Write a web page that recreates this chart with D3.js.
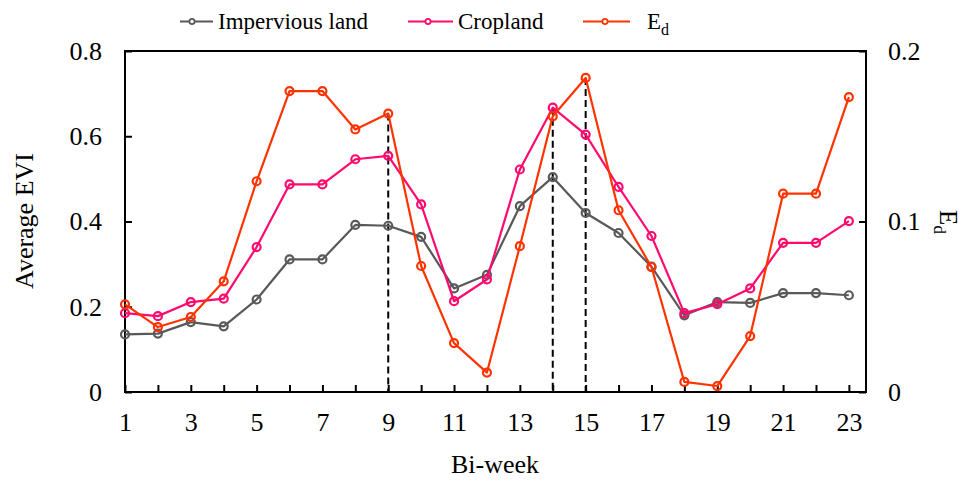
<!DOCTYPE html>
<html>
<head>
<meta charset="utf-8">
<script src="https://cdn.jsdelivr.net/npm/d3@7"></script>
<style>
  html, body { margin: 0; padding: 0; background: #fff; }
  svg { display: block; }
  svg text { font-family: "Liberation Serif", Tinos, "Times New Roman", Times, "Nimbus Roman", "DejaVu Serif", serif !important; fill: #000; }
</style>
</head>
<body>
<svg id="chart" width="966" height="481"></svg>
<script>
const biweeks = d3.range(1, 24);
const xTickLabels = [1, 3, 5, 7, 9, 11, 13, 15, 17, 19, 21, 23];
const leftTicks = [0, 0.2, 0.4, 0.6, 0.8];
const rightTicks = [0, 0.1, 0.2];
const impervious = [0.135, 0.137, 0.164, 0.154, 0.217, 0.311, 0.311, 0.392, 0.390, 0.364, 0.243, 0.275,
                    0.436, 0.504, 0.420, 0.373, 0.294, 0.180, 0.211, 0.209, 0.232, 0.232, 0.227];
const cropland = [0.185, 0.178, 0.211, 0.219, 0.340, 0.487, 0.487, 0.546, 0.554, 0.440, 0.213, 0.264,
                  0.522, 0.667, 0.604, 0.481, 0.366, 0.185, 0.206, 0.243, 0.350, 0.350, 0.401];
const ed = [0.0514, 0.0381, 0.0440, 0.0649, 0.1236, 0.1765, 0.1765, 0.1540, 0.1633, 0.0739, 0.0287, 0.0114,
            0.0855, 0.1617, 0.1842, 0.1066, 0.0733, 0.0059, 0.0035, 0.0328, 0.1163, 0.1163, 0.1730];
const dashedAt = [9, 14, 15];
const seriesNames = ["Impervious land", "Cropland", "E"];
const colors = ["#595959", "#FF0A6E", "#FF3300"];

const FONT = '"Liberation Serif", Tinos, "Times New Roman", Times, "Nimbus Roman", "DejaVu Serif", serif';
const svg = d3.select("#chart").attr("font-family", FONT);
const pL = 125, pR = 866, pT = 51, pB = 392;

const x = d3.scaleLinear().domain([1, 23.52]).range([pL, pR]);
const yL = d3.scaleLinear().domain([0, 0.8]).range([pB, pT]);
const yR = d3.scaleLinear().domain([0, 0.2]).range([pB, pT]);

const series = [
  { name: seriesNames[0], values: impervious, y: yL, color: colors[0] },
  { name: seriesNames[1], values: cropland, y: yL, color: colors[1] },
  { name: seriesNames[2], values: ed, y: yR, color: colors[2] }
];

// dashed vertical lines from the highest point down to the axis
dashedAt.forEach(w => {
  const i = biweeks.indexOf(w);
  const topY = d3.min(series, s => s.y(s.values[i]));
  svg.append("line")
    .attr("x1", x(w)).attr("x2", x(w))
    .attr("y1", topY).attr("y2", pB)
    .attr("stroke", "#000").attr("stroke-width", 2)
    .attr("stroke-dasharray", "7,4");
});

// frame
svg.append("rect")
  .attr("x", pL).attr("y", pT)
  .attr("width", pR - pL).attr("height", pB - pT)
  .attr("fill", "none").attr("stroke", "#000").attr("stroke-width", 2);

function styleAxis(g) {
  g.attr("font-family", FONT);
  g.select(".domain").remove();
  g.selectAll(".tick line").attr("stroke", "#000").attr("stroke-width", 2);
  g.selectAll(".tick text").attr("font-size", 26).attr("font-family", FONT).attr("fill", "#000");
}

// bottom axis (ticks inward)
const xAxis = d3.axisBottom(x).tickValues(biweeks).tickSize(-7).tickSizeOuter(0)
  .tickFormat(d => xTickLabels.includes(d) ? d : "").tickPadding(21);
svg.append("g").attr("transform", `translate(0,${pB})`).call(xAxis).call(styleAxis);

// left axis
const yAxisL = d3.axisLeft(yL).tickValues(leftTicks).tickSize(-7).tickSizeOuter(0)
  .tickFormat(d => d === 0 ? "0" : d3.format(".1f")(d)).tickPadding(23);
svg.append("g").attr("transform", `translate(${pL},0)`).call(yAxisL).call(styleAxis);

// right axis
const yAxisR = d3.axisRight(yR).tickValues(rightTicks).tickSize(-7).tickSizeOuter(0)
  .tickFormat(d => d === 0 ? "0" : d3.format(".1f")(d)).tickPadding(22);
svg.append("g").attr("transform", `translate(${pR},0)`).call(yAxisR).call(styleAxis);

// series
series.forEach(s => {
  const line = d3.line().x((d, i) => x(biweeks[i])).y(d => s.y(d));
  svg.append("path").datum(s.values)
    .attr("d", line).attr("fill", "none")
    .attr("stroke", s.color).attr("stroke-width", 2.2).attr("stroke-linejoin", "round");
  svg.append("g").selectAll("circle").data(s.values).join("circle")
    .attr("cx", (d, i) => x(biweeks[i])).attr("cy", d => s.y(d))
    .attr("r", 4).attr("fill", "none")
    .attr("stroke", s.color).attr("stroke-width", 2.2);
});

// axis titles
svg.append("text")
  .attr("transform", "translate(33,221) rotate(-90)")
  .attr("text-anchor", "middle").attr("font-size", 26).text("Average EVI");

svg.append("text")
  .attr("x", 495).attr("y", 473)
  .attr("text-anchor", "middle").attr("font-size", 26).text("Bi-week");

const edTitle = svg.append("text")
  .attr("transform", "translate(940,222) rotate(90)")
  .attr("text-anchor", "middle").attr("font-size", 25);
edTitle.append("tspan").text("E");
edTitle.append("tspan").attr("font-size", 17).attr("dy", 6).text("d");

// legend
const legendItems = [
  { x1: 180, x2: 213, cx: 192, tx: 218 },
  { x1: 408, x2: 453, cx: 428, tx: 458 },
  { x1: 583, x2: 630, cx: 605, tx: 647 }
];
legendItems.forEach((p, k) => {
  const g = svg.append("g");
  g.append("line").attr("x1", p.x1).attr("x2", p.x2).attr("y1", 21.5).attr("y2", 21.5)
    .attr("stroke", colors[k]).attr("stroke-width", 2.2);
  g.append("circle").attr("cx", p.cx).attr("cy", 21.5).attr("r", 2.6)
    .attr("fill", "#fff").attr("stroke", colors[k]).attr("stroke-width", 1.8);
  const t = g.append("text").attr("x", p.tx).attr("y", 29).attr("font-size", 23);
  t.append("tspan").text(seriesNames[k]);
  if (k === 2) t.append("tspan").attr("font-size", 16).attr("dy", 6).text("d");
});
</script>
</body>
</html>
